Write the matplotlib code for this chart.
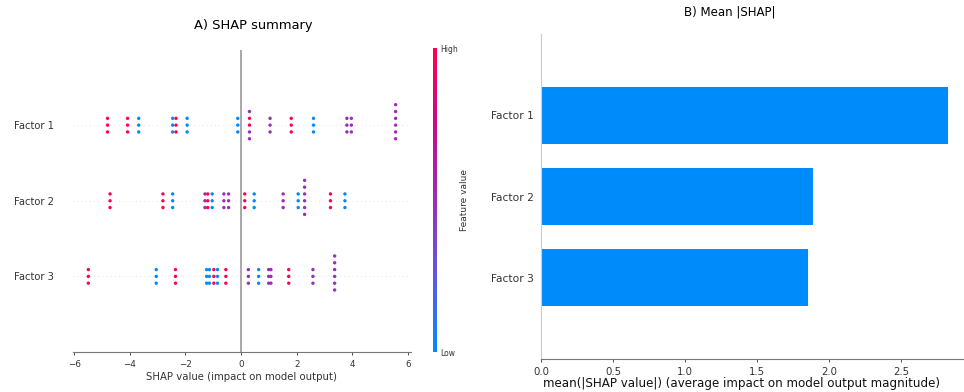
import numpy as np
import matplotlib
matplotlib.use("Agg")
from matplotlib import pyplot as plt
from matplotlib.colors import LinearSegmentedColormap

features = ["Factor 1", "Factor 2", "Factor 3"]

# SHAP values read off the beeswarm, one entry per column of dots
# level: 0 = low (blue), 0.5 = mid (purple), 1 = high (red); count = dots in column
f1_shap = [-4.80, -4.08, -3.68, -2.46, -2.34, -1.94, -0.12, 0.30, 0.30, 0.30, 0.30, 1.04, 1.80, 2.60, 3.80, 3.96, 5.55]
f1_level = [1, 1, 0, 0, 1, 0, 0, 1, 1, 0.5, 0.5, 0.5, 1, 0, 0.5, 0.5, 0.5]
f1_count = [3, 3, 3, 3, 3, 3, 3, 2, 0, 1, 2, 3, 3, 3, 3, 3, 6]

f2_shap = [-4.71, -2.81, -2.46, -1.30, -1.20, -1.04, -0.62, -0.45, 0.13, 0.47, 1.51, 2.05, 2.28, 3.21, 3.73]
f2_level = [1, 1, 0, 0.5, 1, 0, 0.5, 0.5, 1, 0, 0.5, 0, 0.5, 1, 0]
f2_count = [3, 3, 3, 3, 3, 3, 3, 3, 3, 3, 3, 3, 6, 3, 3]

f3_shap = [-5.49, -3.05, -2.36, -1.24, -1.14, -0.98, -0.85, -0.55, 0.26, 0.63, 0.99, 1.07, 1.71, 2.58, 3.36]
f3_level = [1, 0, 1, 0, 0, 1, 0, 1, 0.5, 0, 0.5, 0.5, 1, 0.5, 0.5]
f3_count = [3, 3, 3, 3, 3, 3, 3, 3, 3, 3, 3, 3, 3, 3, 6]

shap_red_blue = LinearSegmentedColormap.from_list(
    "red_blue", ["#008bfb", "#6058e0", "#9a2fb5", "#c70a8a", "#ff0052"])

fig = plt.figure(figsize=(9.64, 3.92), dpi=100)
ax1 = fig.add_axes([0.0757, 0.102, 0.3506, 0.7717])
cax = fig.add_axes([0.4492, 0.102, 0.0042, 0.7755])
ax2 = fig.add_axes([0.5612, 0.0842, 0.443, 0.829])

# ---- A) beeswarm ----
rows = [(f1_shap, f1_level, f1_count), (f2_shap, f2_level, f2_count), (f3_shap, f3_level, f3_count)]
means = []
for i, (vals, levels, counts) in enumerate(rows):
    pos = len(rows) - 1 - i
    x = np.repeat(vals, counts)
    c = np.repeat(levels, counts)
    means.append(np.mean(np.abs(x)))
    ax1.axhline(pos, color="#cccccc", lw=0.5, dashes=(1, 5), zorder=-1)
    # shap-style stacking of points that share a bin
    quant = np.round(100 * (x - x.min()) / (x.max() - x.min() + 1e-8))
    inds = np.argsort(quant, kind="stable")
    ys = np.zeros(len(x))
    layer, last = 0, -1
    for ind in inds:
        if quant[ind] != last:
            layer = 0
        ys[ind] = np.ceil(layer / 2) * ((layer % 2) * 2 - 1)
        layer += 1
        last = quant[ind]
    ys *= 0.9 * (0.4 / np.max(ys + 1))
    ax1.scatter(x, pos + ys, c=c, cmap=shap_red_blue, vmin=0, vmax=1,
                s=6, linewidth=0, zorder=3)

ax1.axvline(0, color="#999999", lw=1.2, zorder=-1)
ax1.set_ylim(-1, len(features))
ax1.set_yticks(range(len(features)))
ax1.set_yticklabels(features[::-1], fontsize=7.2, color="#333333")
ax1.tick_params(axis="y", length=0, pad=14)
ax1.tick_params(axis="x", labelsize=6.3, colors="#333333", length=2.5, width=0.6)
ax1.set_xlabel("SHAP value (impact on model output)", fontsize=7.3, color="#333333", labelpad=2)
for s in ["top", "right", "left"]:
    ax1.spines[s].set_visible(False)
ax1.spines["bottom"].set_color("#777777")
ax1.set_title("A) SHAP summary", fontsize=9.4, x=0.535, pad=15)

sm = plt.cm.ScalarMappable(cmap=shap_red_blue)
sm.set_array([0, 1])
cb = fig.colorbar(sm, cax=cax, ticks=[0, 1])
cb.set_ticklabels(["Low", "High"])
cb.ax.tick_params(labelsize=5.5, length=0, pad=2, colors="#333333")
cb.outline.set_visible(False)
cb.set_label("Feature value", fontsize=6.5, labelpad=2, color="#333333")

# ---- B) mean |SHAP| ----
ax2.barh(range(len(features)), means[::-1], 0.7, color="#008bfb")
ax2.set_ylim(-1, len(features))
ax2.set_yticks(range(len(features)))
ax2.set_yticklabels(features[::-1], fontsize=7.7, color="#333333")
ax2.tick_params(axis="y", length=0, pad=5)
ax2.tick_params(axis="x", labelsize=7.3, colors="#333333", length=2.5, width=0.6)
ax2.set_xlim(0, max(means) * 1.05)
ax2.set_xlabel("mean(|SHAP value|) (average impact on model output magnitude)",
               fontsize=8.6, color="#111111", x=0.47, labelpad=0)
for s in ["top", "right"]:
    ax2.spines[s].set_visible(False)
ax2.spines["left"].set_color("#cccccc")
ax2.spines["bottom"].set_color("#777777")
ax2.set_title("B) Mean |SHAP|", fontsize=8.5, x=0.443, pad=13)

fig.savefig("out.png", dpi=100)
